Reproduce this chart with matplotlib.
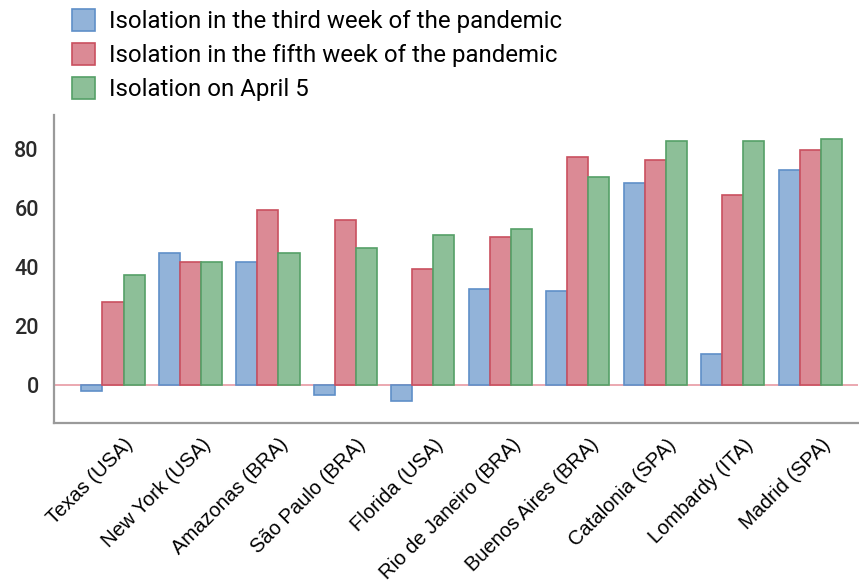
import matplotlib.pyplot as plt
import numpy as np

# data
regions = ['Texas (USA)', 'New York (USA)', 'Amazonas (BRA)', 'São Paulo (BRA)',
           'Florida (USA)', 'Rio de Janeiro (BRA)', 'Buenos Aires (BRA)',
           'Catalonia (SPA)', 'Lombardy (ITA)', 'Madrid (SPA)']
third_week = [-2, 44.7, 41.6, -3.3, -5.3, 32.7, 31.9, 68.4, 10.5, 73]
fifth_week = [28.3, 41.6, 59.4, 56, 39.3, 50.3, 77.5, 76.4, 64.5, 79.6]
april_5 = [37.3, 41.6, 44.7, 46.6, 50.9, 52.8, 70.7, 82.7, 82.7, 83.5]
series_labels = ['Isolation in the third week of the pandemic',
                 'Isolation in the fifth week of the pandemic',
                 'Isolation on April 5']

fills = ['#92b3d9', '#db8a95', '#8dbf98']
edges = ['#5f8fc8', '#c9505f', '#55a067']

fig = plt.figure(figsize=(8.59, 5.87), dpi=100)
ax = fig.add_axes([0.063, 0.280, 0.936, 0.524])

x = np.arange(len(regions))
width = 0.272
handles = []
for i, vals in enumerate([third_week, fifth_week, april_5]):
    b = ax.bar(x + (i - 1) * width, vals, width, color=fills[i],
               edgecolor=edges[i], linewidth=1.2, label=series_labels[i])
    handles.append(b)

ax.axhline(0, color='#e89aa3', linewidth=1.2, zorder=0)
ax.set_xlim(-0.76, 9.62)
ax.set_ylim(-12.8, 91.6)
ax.set_yticks([0, 20, 40, 60, 80])
ax.tick_params(axis='y', length=0, pad=11, labelsize=15.5, labelcolor='#2a2a2a')
for t in ax.get_yticklabels():
    t.set_family('Roboto')
    t.set_fontweight('medium')
ax.set_xticks(x + 0.14)
ax.set_xticklabels(regions, rotation=45, ha='right', rotation_mode='anchor',
                   fontsize=14.5, family='Liberation Sans')
ax.tick_params(axis='x', length=0, pad=9)

for s in ['top', 'right']:
    ax.spines[s].set_visible(False)
for s in ['left', 'bottom']:
    ax.spines[s].set_color('#9a9a9a')
    ax.spines[s].set_linewidth(1.6)

fig.legend(handles=handles, loc='upper left', bbox_to_anchor=(72 / 859, 1 - 9 / 587),
           frameon=False, prop={'family': 'Roboto', 'size': 17.3},
           borderpad=0, borderaxespad=0,
           handlelength=0.95, handleheight=1.0, handletextpad=0.6, labelspacing=0.42)

plt.savefig('out.png', dpi=100)
